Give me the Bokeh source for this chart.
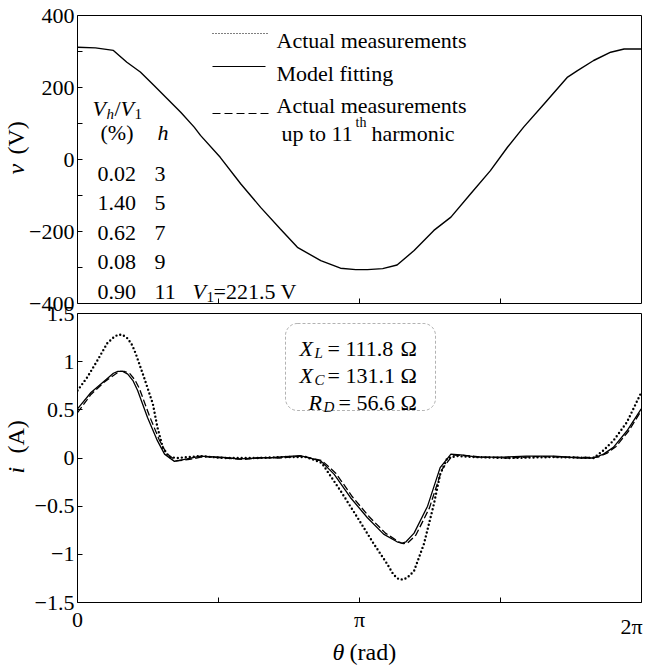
import math
from bokeh.plotting import figure
from bokeh.models import Label, BoxAnnotation, FixedTicker, Range1d
from bokeh.layouts import column
from bokeh.embed import file_html
from bokeh.resources import INLINE

PI = math.pi

# ---------------- data ----------------
# supply voltage v (V) versus theta (rad)
theta_v = [0.00, 0.20, 0.40, 0.55, 0.70, 0.85, 1.00, 1.15, 1.30, 1.37, 1.59, 1.82,
           2.04, 2.26, 2.45, 2.71, 2.93, 3.10, 3.23, 3.40, 3.56, 3.75, 3.97, 4.16,
           4.38, 4.60, 4.79, 4.97, 5.20, 5.46, 5.57, 5.75, 5.94, 6.09, 6.28]
volt = [312, 310, 303, 270, 243, 206, 169, 131, 90, 67, 6, -68,
        -133, -193, -244, -281, -302, -306, -306, -303, -293, -253, -197, -160,
        -95, -31, 34, 90, 155, 229, 247, 275, 298, 307, 307]

# current i (A): actual measurements (dotted)
theta_meas = [0.00, 0.11, 0.22, 0.33, 0.40, 0.45, 0.50, 0.56, 0.61, 0.65,
              0.74, 0.84, 0.89, 0.95, 1.02, 1.11, 1.37, 1.63, 2.00, 2.30,
              2.55, 2.72, 2.93, 3.12, 3.30, 3.45, 3.52, 3.58, 3.64, 3.70,
              3.75, 3.86, 3.97, 4.04, 4.12, 4.23, 4.40, 4.80, 5.30, 5.75,
              5.86, 5.97, 6.12, 6.28]
i_meas = [0.70, 0.84, 1.01, 1.19, 1.25, 1.28, 1.28, 1.24, 1.17, 1.08,
          0.84, 0.56, 0.32, 0.11, 0.01, 0.00, 0.02, 0.00, 0.00, 0.01,
          0.01, -0.05, -0.34, -0.62, -0.89, -1.10, -1.21, -1.26, -1.26, -1.22,
          -1.17, -0.89, -0.48, -0.17, 0.00, 0.02, 0.01, 0.00, 0.01, 0.00,
          0.08, 0.18, 0.37, 0.68]

# current i (A): model fitting (solid)
theta_model = [0.00, 0.15, 0.30, 0.40, 0.45, 0.50, 0.56, 0.62, 0.67, 0.78,
               0.89, 0.97, 1.08, 1.22, 1.37, 1.63, 1.80, 2.00, 2.19, 2.48,
               2.71, 2.86, 3.04, 3.23, 3.41, 3.56, 3.61, 3.66, 3.75, 3.90,
               4.04, 4.16, 4.30, 4.45, 4.75, 5.00, 5.31, 5.60, 5.75, 5.86,
               5.97, 6.12, 6.28]
i_model = [0.51, 0.68, 0.80, 0.88, 0.90, 0.90, 0.87, 0.80, 0.70, 0.42,
           0.18, 0.04, -0.035, -0.01, 0.02, 0.005, -0.01, 0.00, 0.005, 0.025,
           -0.03, -0.17, -0.41, -0.62, -0.79, -0.87, -0.885, -0.87, -0.78, -0.50,
           -0.10, 0.04, 0.03, 0.01, 0.01, 0.02, 0.02, 0.00, 0.00, 0.04,
           0.11, 0.28, 0.51]

# current i (A): actual measurements up to 11th harmonic (dashed)
theta_h11 = [0.00, 0.15, 0.30, 0.42, 0.47, 0.52, 0.58, 0.64, 0.69, 0.80,
             0.91, 0.99, 1.10, 1.25, 1.40, 1.65, 1.85, 2.05, 2.25, 2.50,
             2.72, 2.88, 3.06, 3.25, 3.43, 3.58, 3.63, 3.68, 3.77, 3.92,
             4.06, 4.18, 4.32, 4.50, 4.80, 5.10, 5.40, 5.65, 5.80, 5.90,
             6.00, 6.14, 6.28]
i_h11 = [0.47, 0.66, 0.79, 0.87, 0.90, 0.90, 0.88, 0.81, 0.72, 0.44,
         0.19, 0.05, -0.03, -0.015, 0.015, 0.00, -0.015, 0.005, 0.00, 0.02,
         -0.025, -0.16, -0.40, -0.61, -0.78, -0.87, -0.89, -0.88, -0.80, -0.52,
         -0.12, 0.03, 0.025, 0.01, 0.00, 0.015, 0.01, 0.005, 0.01, 0.05,
         0.12, 0.28, 0.49]

# harmonic table
harm_pct = ["0.02", "1.40", "0.62", "0.08", "0.90"]
harm_order = ["3", "5", "7", "9", "11"]
v1_text = "=221.5 V"
params = [("X", "L", "= 111.8", "Ω"), ("X", "C", "= 131.1", "Ω"), ("R", "D", "= 56.6", "Ω")]

# ticks
theta_major = [0, PI]
theta_minor = [PI / 2, 3 * PI / 2, 2 * PI]
theta_labels = {0: "0", PI: "π"}
v_major = [-400, -200, 0, 200, 400]
v_minor = [-300, -100, 100, 300]
v_labels = {400: "400", 200: "200", 0: "0", -200: "−200", -400: "−400"}
i_ticks = [-1.5, -1.0, -0.5, 0.0, 0.5, 1.0, 1.5]
i_labels = {1.5: "1.5", 1.0: "1", 0.5: "0.5", 0.0: "0", -0.5: "−0.5", -1.0: "−1", -1.5: "−1.5"}

FONT = "Liberation Serif"


# page-pixel helpers (reference geometry) for placing annotations inside the panels
def tx(px):
    return (px - 77) / 564 * 2 * PI


def ty(py):
    return 400 - (py - 15) / 288 * 800


def by(py):
    return 1.5 - (py - 313) / 289 * 3


def lab(p, x, y, text, size=22, style="normal", align="left", angle=0.0):
    p.add_layout(Label(x=x, y=y, text=text, text_font=FONT, text_font_size=f"{size}px",
                       text_font_style=style, text_align=align, text_baseline="alphabetic",
                       angle=angle, text_color="black"))


def style_axes(p):
    p.grid.visible = False
    p.outline_line_color = "black"
    p.outline_line_width = 1
    p.background_fill_color = "white"
    for ax in p.axis:
        ax.axis_line_color = None
        ax.major_tick_in = 5
        ax.major_tick_out = 0
        ax.minor_tick_in = 5
        ax.minor_tick_out = 0
        ax.minor_tick_line_color = "black"
        ax.major_tick_line_color = "black"
        ax.major_label_text_font = FONT
        ax.major_label_text_font_size = "22px"
        ax.major_label_text_color = "black"


W, H = 646, 665
# ---------------- top panel: voltage ----------------
p1 = figure(width=W, height=318, x_range=Range1d(0, 2 * PI), y_range=Range1d(-400, 400),
            output_backend="svg", toolbar_location=None,
            min_border_left=77, min_border_right=5, min_border_top=15, min_border_bottom=15,
            border_fill_color="white")
style_axes(p1)
p1.xaxis.ticker = FixedTicker(ticks=[], minor_ticks=[PI / 2, PI, 3 * PI / 2])
p1.xaxis.major_label_standoff = 0
p1.yaxis.ticker = FixedTicker(ticks=v_major, minor_ticks=v_minor)
p1.yaxis.major_label_overrides = v_labels
p1.yaxis.major_label_standoff = 3

p1.line(theta_v, volt, line_color="black", line_width=1.4)

# legend (drawn by hand, as in the reference)
p1.segment(x0=[tx(212)], y0=[ty(33)], x1=[tx(268)], y1=[ty(33)], line_color="black",
           line_width=1.2, line_dash="1 2")
p1.segment(x0=[tx(212)], y0=[ty(66)], x1=[tx(265)], y1=[ty(66)], line_color="black",
           line_width=1.2)
p1.segment(x0=[tx(212)], y0=[ty(113)], x1=[tx(268)], y1=[ty(113)], line_color="black",
           line_width=1.2, line_dash="8 4")
lab(p1, tx(276), ty(40), "Actual measurements")
lab(p1, tx(276), ty(73), "Model fitting")
lab(p1, tx(276), ty(105), "Actual measurements")
lab(p1, tx(281), ty(133), "up to 11")
lab(p1, tx(355), ty(122), "th", size=14)
lab(p1, tx(371), ty(133), "harmonic")

# harmonic table
lab(p1, tx(92), ty(108), "V", style="italic")
lab(p1, tx(106), ty(113), "h", size=15, style="italic")
lab(p1, tx(114), ty(108), "/")
lab(p1, tx(120), ty(108), "V", style="italic")
lab(p1, tx(134), ty(113), "1", size=15)
lab(p1, tx(100), ty(132), "(%)")
lab(p1, tx(157), ty(132), "h", style="italic")
for k in range(len(harm_pct)):
    yb = 173 + 29.5 * k
    lab(p1, tx(97), ty(yb), harm_pct[k])
    lab(p1, tx(154), ty(yb), harm_order[k])
lab(p1, tx(192), ty(291), "V", style="italic")
lab(p1, tx(206), ty(296), "1", size=15)
lab(p1, tx(213), ty(291), v1_text)

# ---------------- bottom panel: current ----------------
p2 = figure(width=W, height=367, x_range=Range1d(0, 2 * PI), y_range=Range1d(-1.5, 1.5),
            output_backend="svg", toolbar_location=None,
            min_border_left=77, min_border_right=5, min_border_top=15, min_border_bottom=63,
            border_fill_color=None, margin=(-20, 0, 0, 0))
style_axes(p2)
p2.xaxis.ticker = FixedTicker(ticks=theta_major, minor_ticks=theta_minor)
p2.xaxis.major_label_overrides = theta_labels
p2.xaxis.major_label_standoff = 4
p2.yaxis.ticker = FixedTicker(ticks=i_ticks, minor_ticks=[])
p2.yaxis.major_label_overrides = i_labels
p2.yaxis.major_label_standoff = 3

p2.line(theta_meas, i_meas, line_color="black", line_width=2.4, line_dash="0 4",
        line_cap="round")
p2.line(theta_model, i_model, line_color="black", line_width=1.3)
p2.line(theta_h11, i_h11, line_color="black", line_width=1.3, line_dash="7 3")

# parameter box
p2.add_layout(BoxAnnotation(left=tx(285), right=tx(435), top=by(323), bottom=by(410),
                            fill_alpha=0, line_color="black", line_width=1,
                            line_dash="3 2", border_radius=12))
sym_x = [299, 299, 308]
val_x = [327, 327, 338]
for k, (sym, sub, val, unit) in enumerate(params):
    yb = 348 + 27 * k
    lab(p2, tx(sym_x[k]), by(yb), sym, style="italic")
    lab(p2, tx(sym_x[k] + 15), by(yb + 4), sub, size=15, style="italic")
    lab(p2, tx(val_x[k]), by(yb), val)
    lab(p2, tx(400), by(yb), unit)

# ---------------- transparent overlay (own root) for texts outside the panels ----------------
ov = figure(width=W, height=H, x_range=Range1d(0, W), y_range=Range1d(H, 0),
            output_backend="svg", toolbar_location=None, x_axis_type=None, y_axis_type=None,
            min_border=0, border_fill_color=None, background_fill_color=None,
            outline_line_color=None, margin=(-H, 0, 0, 0))
ov.grid.visible = False
lab(ov, 15, 174, "v", size=24, style="italic", angle=PI / 2)
lab(ov, 15, 154, "(V)", size=24, angle=PI / 2)
lab(ov, 15, 473, "i", size=24, style="italic", angle=PI / 2)
lab(ov, 15, 453, "(A)", size=24, angle=PI / 2)
lab(ov, 332, 651, "θ", size=24, style="italic")
lab(ov, 349, 651, "(rad)", size=24)
lab(ov, 631, 626, "2π", align="center")

layout = column(p1, p2)
open("out.html", "w").write(file_html([layout, ov], INLINE))
